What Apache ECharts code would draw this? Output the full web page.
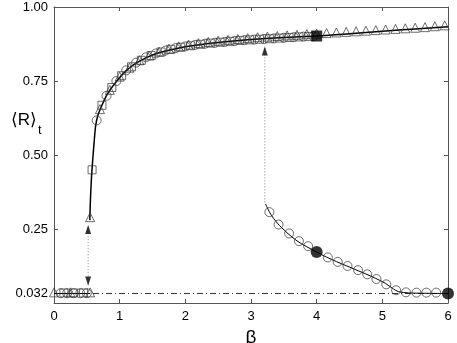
<!DOCTYPE html>
<html>
<head>
<meta charset="utf-8">
<script src="https://cdn.jsdelivr.net/npm/echarts@6/dist/echarts.min.js"></script>
<style>
  html, body { margin: 0; padding: 0; background: #fff; }
  #main { width: 457px; height: 343px; }
</style>
</head>
<body>
<div id="main"></div>
<script>
// y tick values (the odd one is the 0.032 baseline)
const yTicks = [0.032, 0.25, 0.5, 0.75, 1.0];

// theory curves (solid lines)
const upperCurve = [[0.545,0.28],[0.555,0.35],[0.57,0.42],[0.585,0.47],[0.61,0.54],[0.635,0.60],[0.67,0.635],[0.73,0.668],[0.81,0.705],[0.95,0.748],[1.1,0.785],[1.25,0.81],[1.4,0.828],[1.55,0.842],[1.75,0.854],[2.0,0.866],[2.5,0.88],[3.0,0.89],[3.5,0.897],[4.0,0.902],[4.5,0.91],[5.0,0.918],[5.5,0.926],[6.0,0.933]];
const lowerLeftCurve = [[0,0.032],[0.55,0.032]];
const lowerRightCurve = [[3.22,0.335],[3.3,0.30],[3.4,0.27],[3.55,0.237],[3.7,0.21],[3.85,0.19],[4.0,0.172],[4.15,0.155],[4.3,0.14],[4.45,0.126],[4.6,0.112],[4.75,0.098],[4.9,0.083],[5.05,0.066],[5.15,0.05],[5.25,0.038],[5.4,0.034],[5.6,0.033],[6.0,0.032]];

// baseline (dash-dot)
const baseline = [[0,0.032],[6,0.032]];

// simulation markers
const triangles = [[0,0.036],[0.25,0.036],[0.55,0.036],[0.55,0.29],[0.70,0.655],[0.85,0.72],[1.00,0.765],[1.15,0.795],[1.30,0.82],[1.45,0.836],[1.60,0.849],[1.75,0.859],[1.90,0.867],[2.05,0.873],[2.20,0.878],[2.35,0.882],[2.50,0.886],[2.65,0.889],[2.80,0.892],[2.95,0.895],[3.10,0.898],[3.25,0.900],[3.40,0.902],[3.55,0.904],[3.70,0.906],[3.85,0.908],[4.00,0.91],[4.15,0.912],[4.30,0.914],[4.45,0.916],[4.60,0.918],[4.75,0.92],[4.90,0.922],[5.05,0.924],[5.20,0.926],[5.35,0.928],[5.50,0.930],[5.65,0.932],[5.80,0.935],[5.95,0.938]];
const circles = [[0.1,0.033],[0.2,0.033],[0.3,0.033],[0.4,0.033],[0.5,0.033],[0.65,0.617],[0.80,0.70],[0.95,0.75],[1.10,0.786],[1.25,0.812],[1.40,0.83],[1.55,0.843],[1.70,0.853],[1.85,0.861],[2.00,0.867],[2.15,0.872],[2.30,0.876],[2.45,0.879],[2.60,0.882],[2.75,0.885],[2.90,0.888],[3.05,0.89],[3.20,0.892],[3.35,0.894],[3.50,0.896],[3.65,0.898],[3.80,0.9],[3.95,0.901],[3.28,0.307],[3.42,0.265],[3.58,0.235],[3.73,0.209],[3.87,0.192],[4.17,0.154],[4.32,0.139],[4.47,0.125],[4.63,0.111],[4.77,0.097],[4.91,0.081],[5.06,0.063],[5.21,0.043],[5.36,0.036],[5.52,0.035],[5.67,0.035],[5.82,0.035]];
const squares = [[0.15,0.034],[0.3,0.034],[0.45,0.034],[0.58,0.45],[0.73,0.668],[0.88,0.728],[1.03,0.768],[1.18,0.798],[1.33,0.82],[1.48,0.836],[1.63,0.848],[1.78,0.857],[1.93,0.864],[2.08,0.869],[2.23,0.874],[2.38,0.878],[2.53,0.881],[2.68,0.884],[2.83,0.887],[2.98,0.889],[3.13,0.891],[3.28,0.893],[3.43,0.895],[3.58,0.897],[3.73,0.899],[3.88,0.9]];

// highlighted states
const filledCircles = [[4.0,0.172],[6.0,0.032]];
const filledSquares = [[4.0,0.902]];

// dotted guide lines and their arrowheads (x, y, rotation)
const guideLeft = [[0.52,0.06],[0.52,0.262]];
const guideRight = [[3.21,0.34],[3.21,0.865]];
const arrowHeads = [[0.52,0.248,0],[0.52,0.074,180],[3.21,0.851,0]];

const font = 'Liberation Sans, Arial, DejaVu Sans';
const axisColor = '#555';

var chart = echarts.init(document.getElementById('main'), null, { renderer: 'canvas' });

var hollow = function (name, symbol, size, data) {
  return {
    name: name,
    type: 'scatter',
    symbol: symbol,
    symbolSize: size,
    data: data,
    clip: false,
    z: 4,
    itemStyle: { color: 'transparent', borderColor: '#333', borderWidth: 0.9 }
  };
};

var guide = function (name, data) {
  return {
    name: name, type: 'line', data: data, showSymbol: false, silent: true, z: 2,
    lineStyle: { color: '#888', width: 1, type: [1, 2] }
  };
};

var option = {
  animation: false,
  backgroundColor: '#fff',
  textStyle: { fontFamily: font },
  grid: { left: 54, right: 9, top: 7, bottom: 40, containLabel: false, outerBoundsMode: 'none' },
  xAxis: [{
    type: 'value',
    min: 0, max: 6, interval: 1,
    position: 'bottom',
    name: 'β',
    nameLocation: 'middle',
    nameGap: 17,
    nameTextStyle: { fontSize: 19, color: '#000', fontFamily: font },
    axisLine: { show: true, onZero: false, lineStyle: { color: axisColor, width: 1 } },
    axisTick: { show: true, inside: true, length: 4, lineStyle: { color: axisColor } },
    axisLabel: { color: '#000', fontSize: 13, margin: 7, fontFamily: font },
    splitLine: { show: false }
  }, {
    type: 'value',
    min: 0, max: 6, interval: 1,
    position: 'top',
    axisLine: { show: true, onZero: false, lineStyle: { color: axisColor, width: 1 } },
    axisTick: { show: true, inside: true, length: 4, lineStyle: { color: axisColor } },
    axisLabel: { show: false },
    splitLine: { show: false }
  }],
  yAxis: [{
    type: 'value',
    min: 0, max: 1,
    position: 'left',
    axisLine: { show: true, onZero: false, lineStyle: { color: axisColor, width: 1 } },
    axisTick: { show: true, inside: true, length: 4, customValues: yTicks, lineStyle: { color: axisColor } },
    axisLabel: {
      color: '#000', fontSize: 13, margin: 6, fontFamily: font,
      customValues: yTicks,
      formatter: function (v) { return v === 0.032 ? '0.032' : v.toFixed(2); }
    },
    splitLine: { show: false }
  }, {
    type: 'value',
    min: 0, max: 1,
    position: 'right',
    axisLine: { show: true, onZero: false, lineStyle: { color: axisColor, width: 1 } },
    axisTick: { show: true, inside: true, length: 4, customValues: yTicks, lineStyle: { color: axisColor } },
    axisLabel: { show: false },
    splitLine: { show: false }
  }],
  graphic: [
    { type: 'text', left: 11, top: 112, style: { text: '⟨R⟩', font: '17px ' + font, fill: '#000' } },
    { type: 'text', left: 38, top: 124, style: { text: 't', font: '13px ' + font, fill: '#000' } }
  ],
  series: [
    {
      name: 'baseline', type: 'line', data: baseline, showSymbol: false, silent: true, z: 2,
      lineStyle: { color: '#000', width: 0.8, type: [6, 3, 1, 3] }
    },
    guide('guideLeft', guideLeft),
    guide('guideRight', guideRight),
    {
      name: 'arrowHeads', type: 'scatter', symbol: 'triangle', symbolSize: [6, 9], silent: true, z: 5,
      data: arrowHeads.map(function (a) { return { value: [a[0], a[1]], symbolRotate: a[2] }; }),
      itemStyle: { color: '#000' }
    },
    {
      name: 'upper', type: 'line', data: upperCurve, showSymbol: false, smooth: 0.3, z: 3,
      lineStyle: { color: '#000', width: 1.5 }
    },
    {
      name: 'lowerLeft', type: 'line', data: lowerLeftCurve, showSymbol: false, z: 3,
      lineStyle: { color: '#000', width: 1 }
    },
    {
      name: 'lowerRight', type: 'line', data: lowerRightCurve, showSymbol: false, smooth: 0.3, z: 3,
      lineStyle: { color: '#000', width: 1 }
    },
    hollow('triangles', 'triangle', 9, triangles),
    hollow('circles', 'circle', 9, circles),
    hollow('squares', 'rect', 8, squares),
    {
      name: 'filledCircles', type: 'scatter', symbol: 'circle', symbolSize: 12, data: filledCircles,
      clip: false, z: 5, itemStyle: { color: '#000' }
    },
    {
      name: 'filledSquares', type: 'scatter', symbol: 'rect', symbolSize: 11, data: filledSquares,
      clip: false, z: 5, itemStyle: { color: '#000' }
    }
  ]
};

chart.setOption(option);
</script>
</body>
</html>
